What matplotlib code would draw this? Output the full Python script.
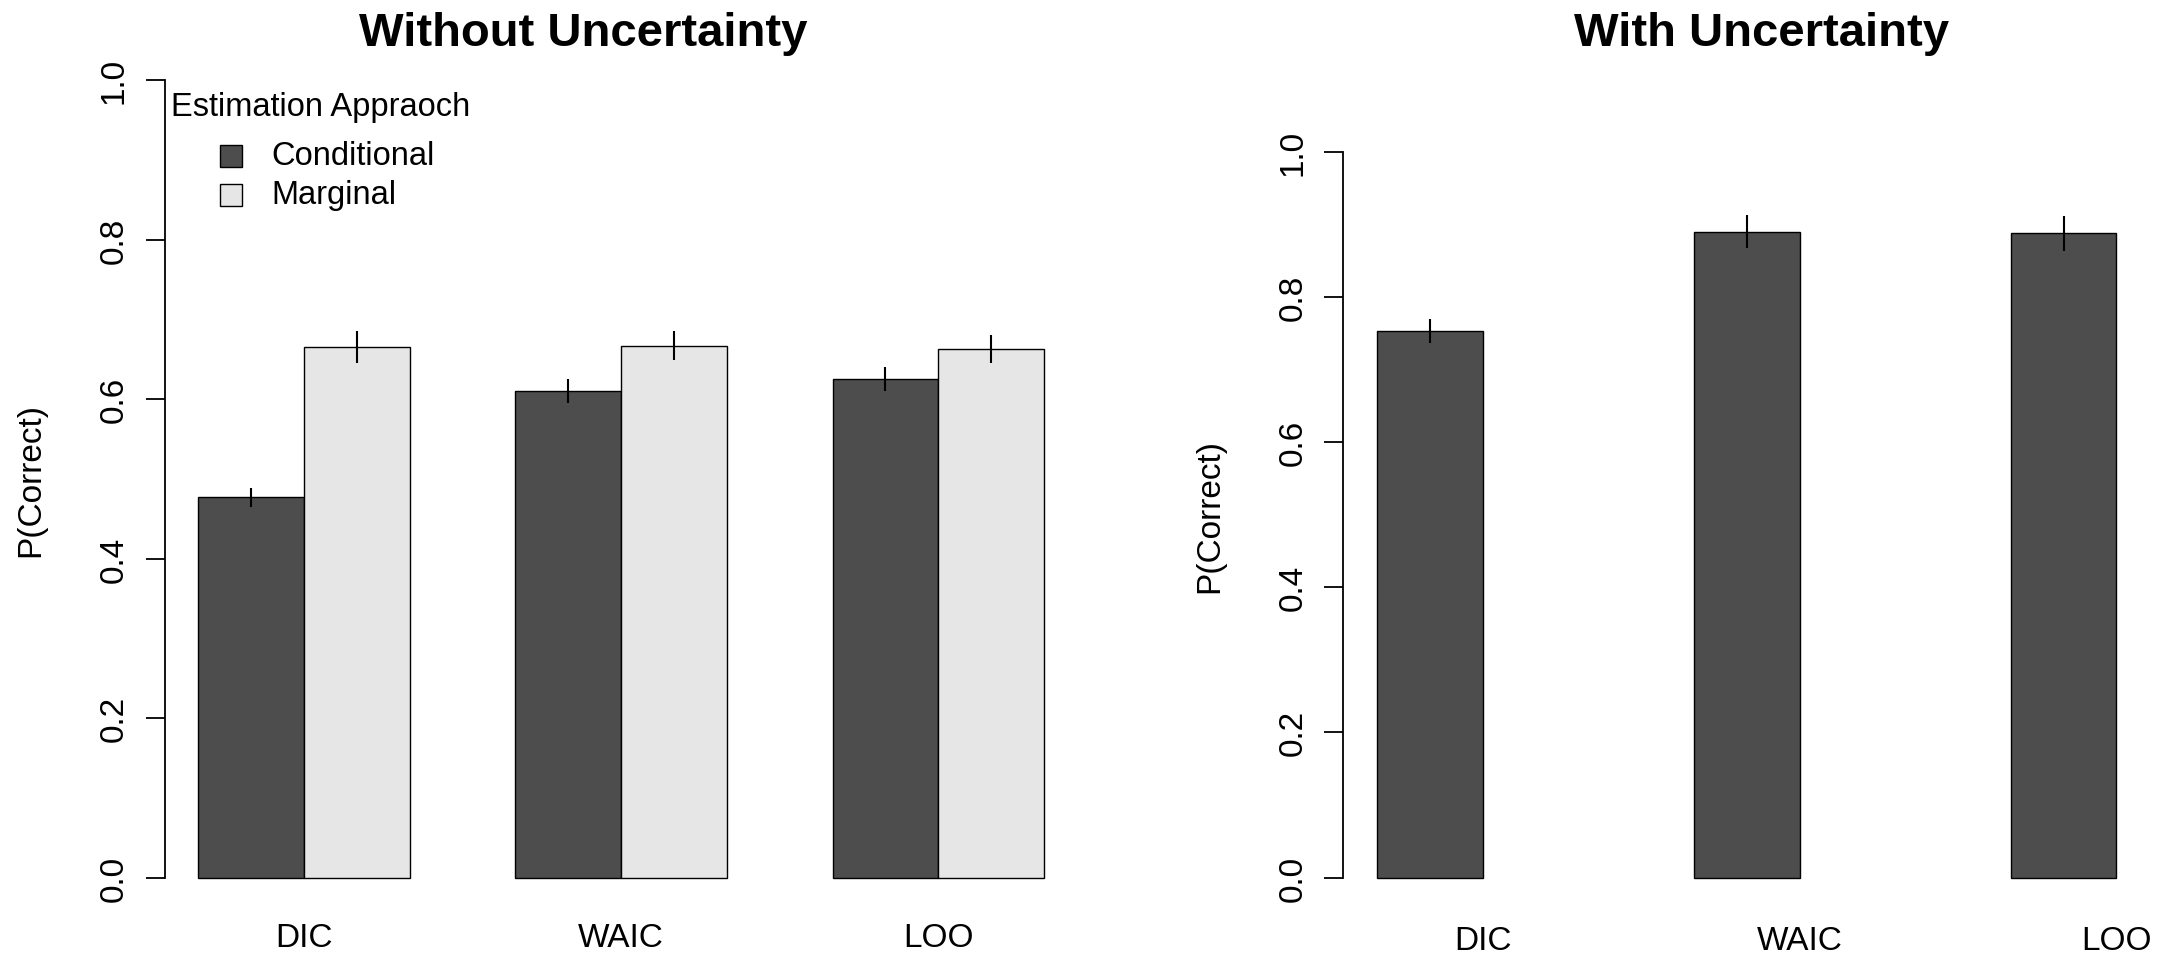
import matplotlib.pyplot as plt
import numpy as np
from matplotlib.patches import Rectangle

plt.rcParams['font.family'] = ['Liberation Sans', 'DejaVu Sans']

# data
criteria = ['DIC', 'WAIC', 'LOO']
approaches = ['Conditional', 'Marginal']
colors = ['#4d4d4d', '#e6e6e6']

# without uncertainty
cond_mean = [0.477, 0.610, 0.625]
cond_err = [0.012, 0.015, 0.015]
marg_mean = [0.665, 0.667, 0.663]
marg_err = [0.020, 0.018, 0.018]

# with uncertainty (only conditional estimates shown)
unc_mean = [0.753, 0.890, 0.888]
unc_err = [0.017, 0.023, 0.024]

fig = plt.figure(figsize=(21.59, 9.54), dpi=100)
ax1 = fig.add_axes([0.0762, 0.0457, 0.4230, 0.9026])
ax2 = fig.add_axes([0.6222, 0.0487, 0.4226, 0.8215])

# R style barplot positions: two bars per group, one bar gap between groups
x = np.arange(len(criteria)) * 3 + 1.5


def style_axes(ax, xpad):
    ax.set_xlim(0.68, 9.32)
    ax.set_ylim(-0.04, 1.04)
    for s in ['top', 'right', 'bottom']:
        ax.spines[s].set_visible(False)
    ax.spines['left'].set_bounds(0, 1)
    ax.spines['left'].set_linewidth(1.3)
    ax.set_yticks([0, 0.2, 0.4, 0.6, 0.8, 1.0])
    ax.set_yticklabels(['0.0', '0.2', '0.4', '0.6', '0.8', '1.0'],
                       rotation=90, va='center')
    ax.tick_params(axis='y', length=14, width=1.3, labelsize=24, pad=11)
    ax.set_xticks(x + 0.5)
    ax.set_xticklabels(criteria)
    ax.tick_params(axis='x', length=0, labelsize=24, pad=xpad)
    ax.set_ylabel('P(Correct)', fontsize=24)
    ax.yaxis.set_label_coords(-0.129, 0.5)


# left panel
ax1.bar(x, cond_mean, width=1, color=colors[0], edgecolor='black', linewidth=1)
ax1.bar(x + 1, marg_mean, width=1, color=colors[1], edgecolor='black', linewidth=1)
ax1.vlines(x, np.array(cond_mean) - cond_err, np.array(cond_mean) + cond_err,
           color='black', linewidth=1.5)
ax1.vlines(x + 1, np.array(marg_mean) - marg_err, np.array(marg_mean) + marg_err,
           color='black', linewidth=1.5)
style_axes(ax1, 9)

# legend drawn R style
ax1.text(0.007, 0.9325, 'Estimation Appraoch', transform=ax1.transAxes,
         fontsize=23.5, va='center', ha='left')
for i, (lab, col) in enumerate(zip(approaches, colors)):
    ax1.add_patch(Rectangle((0.061, 0.862 - i * 0.0446), 0.0241, 0.0255,
                            transform=ax1.transAxes, facecolor=col,
                            edgecolor='black', linewidth=1, clip_on=False))
    ax1.text(0.1166, 0.875 - i * 0.0446, lab, transform=ax1.transAxes,
             fontsize=23.5, va='center', ha='left')

# right panel
ax2.bar(x, unc_mean, width=1, color=colors[0], edgecolor='black', linewidth=1)
ax2.vlines(x, np.array(unc_mean) - unc_err, np.array(unc_mean) + unc_err,
           color='black', linewidth=1.5)
style_axes(ax2, 13)

fig.text(0.270, 0.9643, 'Without Uncertainty', fontsize=34, fontweight='bold',
         ha='center', va='center')
fig.text(0.816, 0.9643, 'With Uncertainty', fontsize=34, fontweight='bold',
         ha='center', va='center')

fig.savefig('out.png', dpi=100)
